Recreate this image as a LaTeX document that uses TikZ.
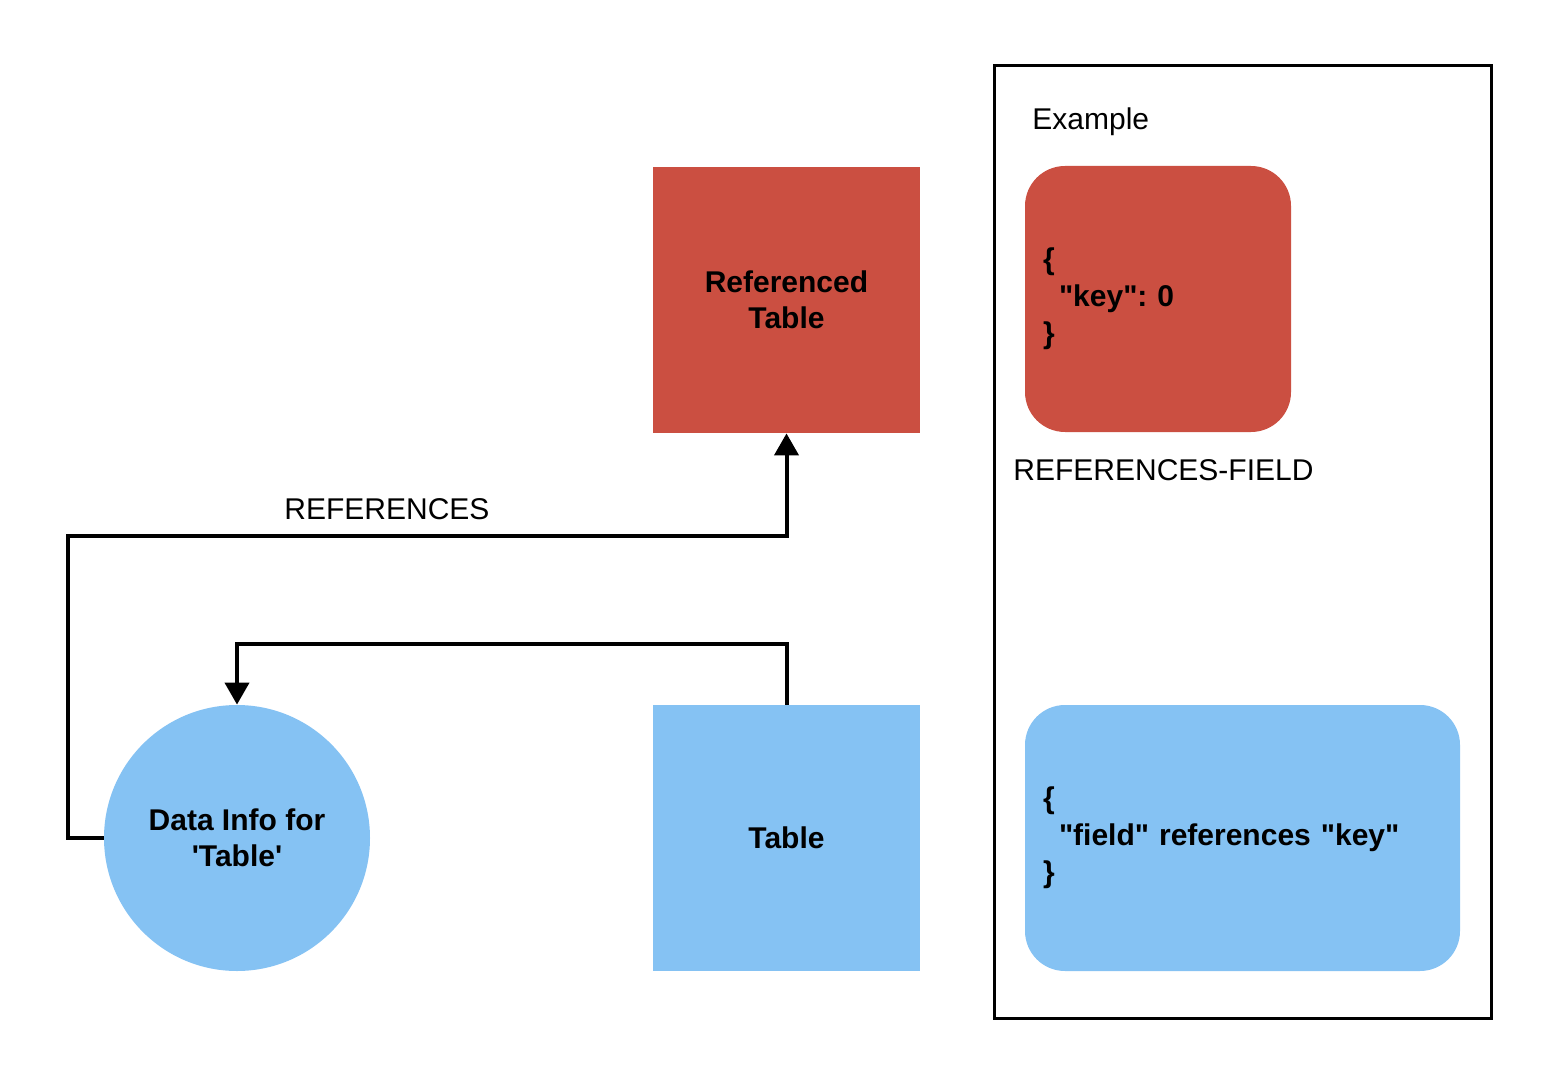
\documentclass[tikz,border=0pt]{standalone}
\usepackage{fontspec}
\setmainfont{Liberation Sans}
\usetikzlibrary{
    arrows.meta,
    positioning,
    shapes.geometric
}
\definecolor{refred}{HTML}{CB4F41}
\definecolor{tableblue}{HTML}{85C2F3}
\newcommand{\labelfont}{\fontsize{15}{18}\selectfont}
\newcommand{\codefont}{\fontsize{15}{18.5}\selectfont\frenchspacing}
\tikzset{
    % Table box style
    tablebox/.style={
        rectangle,
        fill=#1,
        minimum width=133.5pt,
        minimum height=133pt,
        align=center,
        font=\labelfont\bfseries
    },
    % Data info circle style
    infocircle/.style={
        circle,
        fill=#1,
        minimum size=133pt,
        inner sep=0pt,
        align=center,
        font=\labelfont\bfseries
    },
    % JSON example box style
    jsonbox/.style={
        rectangle,
        rounded corners=20pt,
        fill=#1,
        minimum height=133pt,
        inner xsep=9pt,
        align=left,
        font=\codefont\bfseries
    },
    % Example frame style
    framebox/.style={
        rectangle,
        draw=black,
        line width=1.5pt,
        minimum width=248.5pt,
        minimum height=476pt
    },
    % Arrow style
    link/.style={
        -{Triangle[length=11pt, width=12pt]},
        line width=2pt,
        color=black
    },
    % Plain text style
    plain label/.style={
        font=\labelfont,
        inner sep=0pt
    }
}

\begin{document}
\begin{tikzpicture}[x=0.5pt, y=-0.5pt]
    \useasboundingbox (0,0) rectangle (1557,1085);

    % Example frame
    \node[framebox] (frame) at (1242.5, 542) {};
    \node[plain label, anchor=west] (example) at (1032, 122) {Example};

    % Tables
    \node[tablebox=refred] (refd) at (786.5, 300) {Referenced\\Table};
    \node[tablebox=tableblue] (table) at (786.5, 838) {Table};

    % Data info
    \node[infocircle=tableblue] (datainfo) at (237, 838) {Data Info for\\\textquotesingle Table\textquotesingle};

    % JSON examples
    \node[jsonbox=refred, minimum width=133pt, text width=115pt] (keybox) at (1158, 299)
        {\{\\\hspace*{8pt}\textquotedbl key\textquotedbl: 0\\\}};
    \node[plain label, anchor=west] (fieldlabel) at (1013, 470) {REFERENCES-FIELD};
    \node[jsonbox=tableblue, minimum width=217.5pt, text width=199.5pt] (fieldbox) at (1242.5, 838)
        {\{\\\hspace*{8pt}\textquotedbl field\textquotedbl{} references \textquotedbl key\textquotedbl\\\}};

    % Connections
    \draw[link] (datainfo.west) -- ++(-36,0) -- ++(0,-302) -| (refd.south);
    \node[plain label] (refslabel) at (387, 509) {REFERENCES};
    \draw[link] (table.north) -- ++(0,-61) -| (datainfo.north);

\end{tikzpicture}
\end{document}
